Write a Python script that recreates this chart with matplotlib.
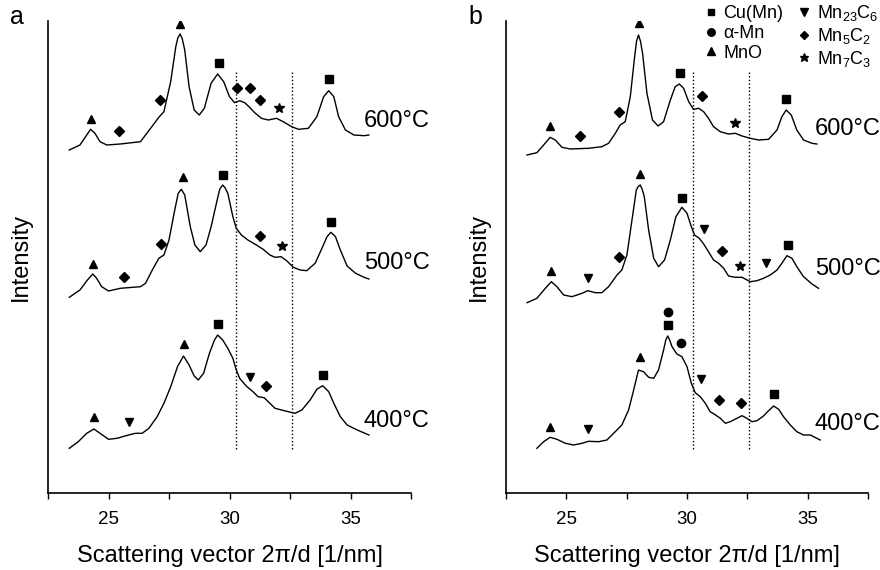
import matplotlib.pyplot as plt

plt.rcParams['font.family'] = ['Liberation Sans', 'DejaVu Sans']
plt.rcParams['mathtext.fontset'] = 'custom'
plt.rcParams['mathtext.rm'] = 'Liberation Sans'
plt.rcParams['mathtext.it'] = 'Liberation Sans:italic'

# ---- panel a: curves (scattering vector, intensity with offset) ----
a600_x = [23.38, 23.82, 24.10, 24.26, 24.44, 24.65, 24.93, 25.49, 26.32, 26.74, 27.08, 27.29,
          27.57, 27.78, 27.87, 27.96, 28.05, 28.15, 28.33, 28.54, 28.75, 28.96, 29.24, 29.51,
          29.76, 30.0, 30.21, 30.42, 30.63, 30.83, 31.04, 31.32, 31.60, 31.94, 32.22, 32.57,
          32.85, 33.26, 33.61, 33.89, 34.10, 34.31, 34.51, 34.79, 35.14, 35.56, 35.76]
a600_y = [343, 348, 358, 363.7, 359.7, 351.3, 348, 349, 351.3, 364.7, 375.7, 381.3,
          411.3, 446.3, 455.5, 459, 454, 443, 406.3, 383, 378, 384.7, 409.7, 419,
          411.3, 396.3, 390.3, 392.3, 390.3, 385.7, 380.3, 374.7, 373, 374.7, 371.3, 366.3,
          363.7, 364.7, 376.3, 396.3, 402.3, 396.3, 376.3, 363, 358, 357.3, 358]

a500_x = [23.38, 23.82, 24.13, 24.35, 24.51, 24.72, 25.0, 25.49, 26.32, 26.53, 26.81, 27.08,
          27.29, 27.5, 27.71, 27.88, 28.01, 28.15, 28.38, 28.57, 28.79, 29.03, 29.24, 29.49,
          29.60, 29.72, 29.82, 29.93, 30.14, 30.28, 30.49, 30.76, 31.11, 31.39, 31.67, 31.88,
          32.13, 32.36, 32.64, 32.92, 33.19, 33.54, 33.82, 34.03, 34.19, 34.38, 34.58, 34.86,
          35.21, 35.56, 35.76]
a500_y = [195.7, 203, 213, 219, 214.7, 206.3, 202, 204.7, 206.3, 209.7, 223, 234.7,
          238, 253, 279.7, 299.7, 303.7, 298, 266.3, 248, 241.3, 248, 266.3, 293,
          304, 308, 305, 299.7, 276.3, 264.7, 258, 253, 248, 243.7, 238, 235.7,
          236.3, 232.3, 225.7, 223, 222.3, 229.7, 244.7, 256.3, 260.7, 256.3, 243, 227,
          219.7, 215.7, 214]

a400_x = [23.38, 23.75, 24.10, 24.40, 24.65, 25.0, 25.35, 25.83, 26.11, 26.39, 26.67, 27.01,
          27.29, 27.57, 27.85, 28.10, 28.33, 28.54, 28.71, 28.93, 29.17, 29.38, 29.51, 29.72,
          29.93, 30.14, 30.28, 30.42, 30.69, 30.97, 31.18, 31.43, 31.67, 31.88, 32.15, 32.43,
          32.71, 32.99, 33.33, 33.61, 33.85, 34.10, 34.31, 34.58, 34.86, 35.28, 35.76]
a400_y = [44.7, 51.3, 59.7, 64, 59.7, 53.7, 54.7, 58, 59.7, 59.7, 64.7, 76.3,
          89.7, 106.3, 126.3, 137, 128, 117, 113, 119.7, 139.7, 153, 158, 153,
          144.7, 134.7, 123, 114.7, 107, 101.3, 96.3, 95.3, 89.7, 84.7, 83, 81.3,
          79.7, 83, 93, 103.7, 107.3, 101.3, 89.7, 76.3, 68, 63, 58]

# ---- panel b ----
b600_x = [23.37, 23.78, 24.06, 24.33, 24.54, 24.82, 25.16, 25.92, 26.47, 26.75, 27.03, 27.23,
          27.44, 27.65, 27.83, 27.91, 27.99, 28.07, 28.16, 28.34, 28.57, 28.80, 29.03, 29.31,
          29.51, 29.68, 29.86, 30.07, 30.27, 30.48, 30.69, 30.89, 31.10, 31.38, 31.72, 32.0,
          32.28, 32.62, 32.97, 33.38, 33.73, 33.93, 34.11, 34.32, 34.55, 34.83, 35.18, 35.38]
b600_y = [338, 340.3, 348, 355.7, 353, 345.7, 344, 344.7, 346.3, 349.7, 359.7, 368,
          371.3, 396.3, 436.3, 452, 458, 452, 439.7, 399.7, 373, 367, 371.3, 393,
          406.3, 409, 404.7, 391.3, 383.7, 384.7, 381.3, 374.7, 366.3, 361.3, 359, 359.7,
          357, 354.7, 353, 353.7, 363, 376.3, 383, 378, 363, 353, 349.7, 349]

b500_x = [23.37, 23.78, 24.13, 24.38, 24.61, 24.89, 25.23, 25.65, 25.89, 26.20, 26.47, 26.75,
          27.10, 27.30, 27.51, 27.72, 27.90, 27.98, 28.06, 28.14, 28.23, 28.41, 28.62, 28.82,
          29.07, 29.31, 29.54, 29.79, 30.0, 30.18, 30.31, 30.51, 30.69, 30.89, 31.10, 31.31,
          31.52, 31.72, 32.0, 32.28, 32.62, 32.90, 33.17, 33.45, 33.73, 33.93, 34.14, 34.35,
          34.55, 34.83, 35.18, 35.45]
b500_y = [190.3, 194.7, 204.7, 211.3, 206.3, 198, 196.3, 199.7, 202.3, 200.3, 200.3, 206.3,
          218, 223, 238, 273, 303, 306.5, 308, 304, 296.3, 263, 234.7, 226.3,
          233, 253, 276.3, 285.7, 279.7, 266.3, 258, 254.7, 249, 241.3, 233, 229.7,
          224.7, 217, 215.7, 215.7, 211.3, 212.3, 214.7, 218, 223, 229.7, 237.3, 234.7,
          226.3, 216.3, 209, 204.7]

b400_x = [23.78, 24.06, 24.33, 24.61, 24.96, 25.30, 25.65, 25.92, 26.34, 26.68, 26.96, 27.30,
          27.58, 27.79, 27.99, 28.20, 28.41, 28.62, 28.82, 29.03, 29.12, 29.20, 29.28, 29.38,
          29.58, 29.79, 30.0, 30.18, 30.34, 30.55, 30.76, 30.96, 31.14, 31.38, 31.59, 31.79,
          32.07, 32.28, 32.48, 32.69, 32.90, 33.17, 33.38, 33.59, 33.80, 34.0, 34.28, 34.55,
          34.83, 35.11, 35.52]
b400_y = [44.7, 51.3, 55.7, 53.7, 49.7, 48, 49.7, 51.7, 51.3, 53, 59.7, 68,
          83, 103, 123, 121.3, 115.7, 114.7, 123, 143, 153, 157, 153, 146.3,
          139, 136.3, 126.3, 109.7, 100.3, 96.3, 89.7, 81.3, 78.7, 74.7, 69.7, 71.3,
          74.7, 77.3, 74.7, 71.3, 72.3, 77, 82.3, 87, 83.7, 76.3, 68, 61.3,
          58, 58, 53]

# ---- phase markers: (phase, x, y) ----
a600_marks = [('MnO', 24.26, 374.3), ('Mn5C2', 25.44, 362), ('Mn5C2', 27.11, 393),
              ('MnO', 27.96, 469), ('Cu(Mn)', 29.56, 429.7), ('Mn5C2', 30.32, 404.7),
              ('Mn5C2', 30.86, 404.7), ('Mn5C2', 31.25, 393), ('Mn7C3', 32.06, 385.3),
              ('Cu(Mn)', 34.13, 413.7)]
a500_marks = [('MnO', 24.35, 229), ('Mn5C2', 25.65, 216.3), ('Mn5C2', 27.15, 248.7),
              ('MnO', 28.06, 315.7), ('Cu(Mn)', 29.75, 318), ('Mn5C2', 31.25, 257),
              ('Mn7C3', 32.18, 247), ('Cu(Mn)', 34.19, 271.3)]
a400_marks = [('MnO', 24.42, 75.7), ('Mn23C6', 25.86, 71.3), ('MnO', 28.10, 148.7),
              ('Cu(Mn)', 29.54, 169), ('Mn23C6', 30.86, 116.3), ('Mn5C2', 31.50, 107),
              ('Cu(Mn)', 33.85, 118)]
b600_marks = [('MnO', 24.33, 367), ('Mn5C2', 25.55, 357), ('Mn5C2', 27.17, 381.3),
              ('MnO', 28.02, 469.7), ('Cu(Mn)', 29.72, 420.3), ('Mn5C2', 30.62, 397),
              ('Mn7C3', 31.97, 370.3), ('Cu(Mn)', 34.11, 393.7)]
b500_marks = [('MnO', 24.36, 222), ('Mn23C6', 25.89, 214.7), ('Mn5C2', 27.19, 235.7),
              ('MnO', 28.06, 318.7), ('Cu(Mn)', 29.79, 295.3), ('Mn23C6', 30.69, 263.7),
              ('Mn5C2', 31.45, 242.3), ('Mn7C3', 32.18, 227), ('Mn23C6', 33.28, 229.7),
              ('Cu(Mn)', 34.17, 248)]
b400_marks = [('MnO', 24.33, 66.3), ('Mn23C6', 25.89, 63.7), ('MnO', 28.04, 135.7),
              ('Cu(Mn)', 29.20, 168), ('a-Mn', 29.20, 180.7), ('a-Mn', 29.76, 149.7),
              ('Mn23C6', 30.59, 113.7), ('Mn5C2', 31.31, 93), ('Mn5C2', 32.23, 89.7),
              ('Cu(Mn)', 33.59, 99.3)]

temps = ['600°C', '500°C', '400°C']
ref_lines = [30.25, 32.58]

phases = ['Cu(Mn)', 'a-Mn', 'MnO', 'Mn23C6', 'Mn5C2', 'Mn7C3']
phase_labels = ['Cu(Mn)', 'α-Mn', 'MnO', r'Mn$_{23}$C$_6$', r'Mn$_5$C$_2$', r'Mn$_7$C$_3$']
markers = {'Cu(Mn)': ('s', 5.2), 'a-Mn': ('o', 6), 'MnO': ('^', 6),
           'Mn23C6': ('v', 6), 'Mn5C2': ('D', 4.6), 'Mn7C3': ('*', 7)}

fig = plt.figure(figsize=(8.8, 5.7), dpi=100)
axa = fig.add_axes([48/880, 77/570, 363/880, 472/570])
axb = fig.add_axes([506/880, 77/570, 362/880, 472/570])


def draw(ax, curves, marks, label_x, label_y):
    for (x, y) in curves:
        ax.plot(x, y, color='black', lw=1.0, solid_joinstyle='round')
    for mk in marks:
        for ph, x, y in mk:
            m, s = markers[ph]
            ax.plot(x, y, ls='none', marker=m, ms=s, color='black')
    for t, ly in zip(temps, label_y):
        ax.text(label_x, ly, t, fontsize=17, va='baseline', ha='left', clip_on=False)
    ax.vlines(ref_lines, 44, 423, colors='black', lw=1.0, linestyles=(0, (1, 1.6)))
    ax.set_xlim(22.5, 37.5)
    ax.set_ylim(0, 472)
    ax.set_xticks([25, 30, 35])
    ax.set_xticks([22.5, 27.5, 32.5, 37.5], minor=True)
    ax.tick_params(axis='x', which='both', direction='out', length=4, width=1, labelsize=13.5, pad=9)
    ax.set_yticks([])
    for s in ['top', 'right']:
        ax.spines[s].set_visible(False)
    ax.spines['left'].set_linewidth(1.2)
    ax.spines['bottom'].set_linewidth(1.2)
    ax.set_ylabel('Intensity', fontsize=17, labelpad=11.5)
    ax.set_xlabel('Scattering vector 2π/d [1/nm]', fontsize=17, labelpad=12)


draw(axa, [(a600_x, a600_y), (a500_x, a500_y), (a400_x, a400_y)],
     [a600_marks, a500_marks, a400_marks], 35.55, [366, 224, 66])
draw(axb, [(b600_x, b600_y), (b500_x, b500_y), (b400_x, b400_y)],
     [b600_marks, b500_marks, b400_marks], 35.3, [358, 218, 63])

fig.text(10/880, 1 - 24/570, 'a', fontsize=18, va='baseline')
fig.text(468/880, 1 - 24/570, 'b', fontsize=18, va='baseline')

handles = [plt.Line2D([], [], ls='none', marker=markers[p][0], ms=markers[p][1] * 0.9,
                      color='black') for p in phases]
fig.legend(handles, phase_labels, ncol=2, loc='upper right', bbox_to_anchor=(878/880, 1 - 3/570),
           frameon=False, fontsize=13, handlelength=0.7, handletextpad=0.35,
           columnspacing=0.8, labelspacing=0.16, borderpad=0, borderaxespad=0)

fig.savefig('out.png', dpi=100)
